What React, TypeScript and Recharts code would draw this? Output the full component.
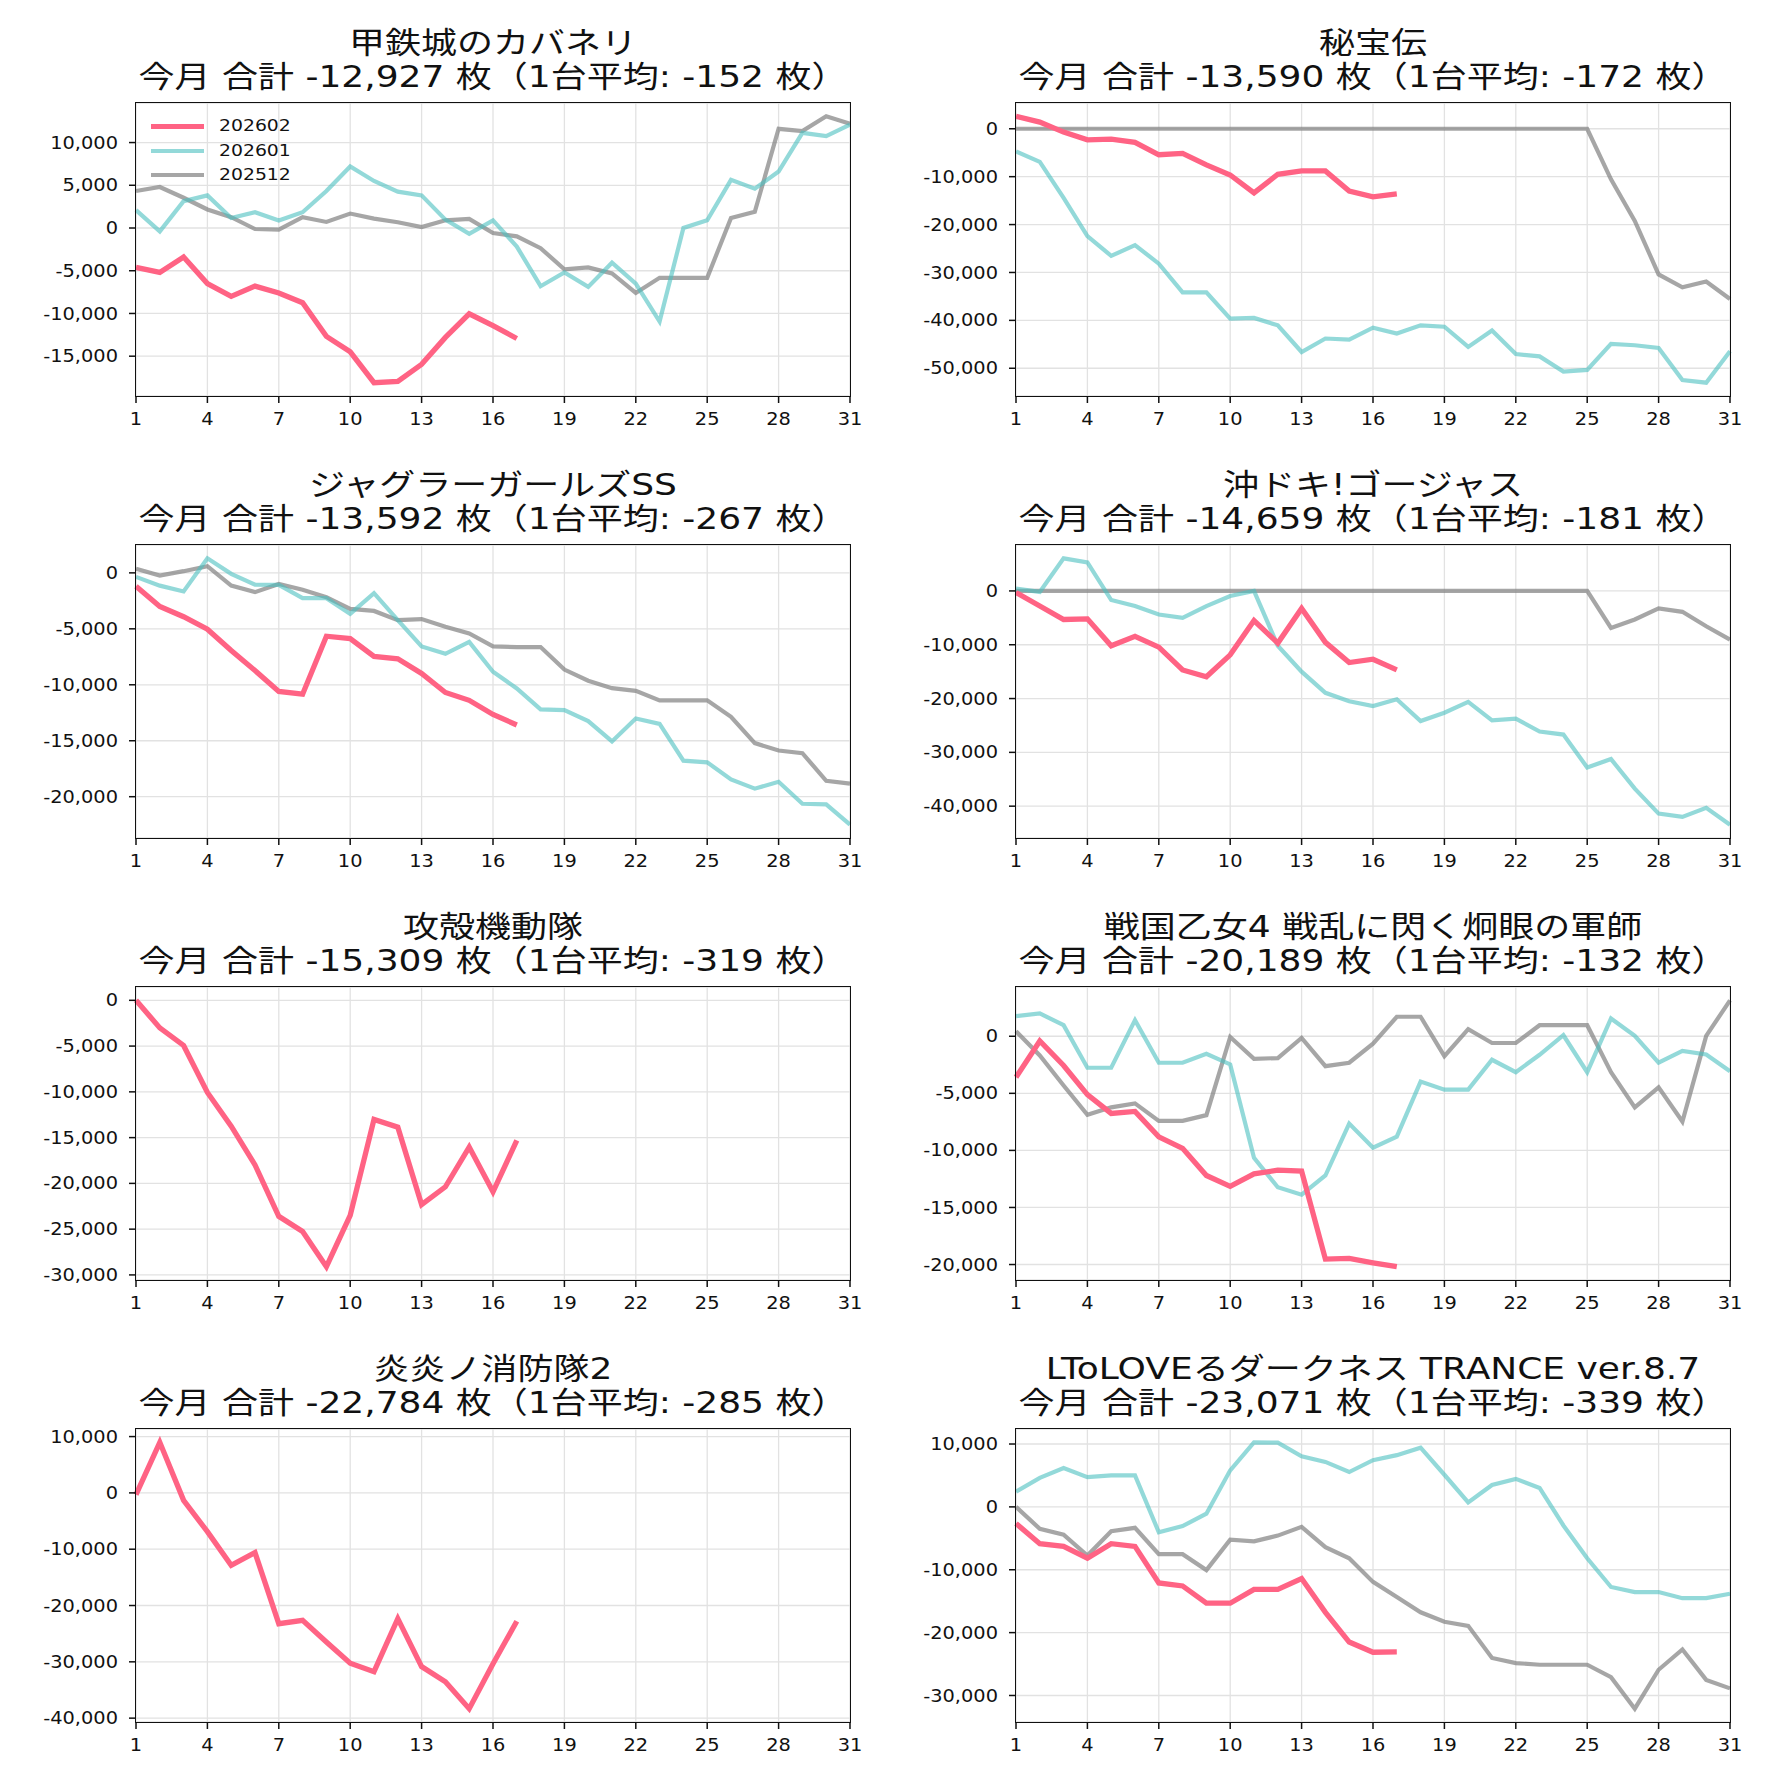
import { LineChart, Line, XAxis, YAxis, CartesianGrid } from "recharts";

// days of the month on the x axis
const days = [
  1, 2, 3, 4, 5, 6, 7, 8, 9, 10, 11, 12, 13, 14, 15, 16,
  17, 18, 19, 20, 21, 22, 23, 24, 25, 26, 27, 28, 29, 30, 31,
];
const dayTicks = [1, 4, 7, 10, 13, 16, 19, 22, 25, 28, 31];
const monthLabels = ["202602", "202601", "202512"];

const machineNames = [
  "甲鉄城のカバネリ",
  "秘宝伝",
  "ジャグラーガールズSS",
  "沖ドキ!ゴージャス",
  "攻殻機動隊",
  "戦国乙女4 戦乱に閃く炯眼の軍師",
  "炎炎ノ消防隊2",
  "LToLOVEるダークネス TRANCE ver.8.7",
];
const monthTotals = [-12927, -13590, -13592, -14659, -15309, -20189, -22784, -23071];
const unitAverages = [-152, -172, -267, -181, -319, -132, -285, -339];

// 甲鉄城のカバネリ
const kabaneriFeb = [-4600, -5200, -3400, -6500, -8000, -6800, -7600, -8740, -12680, -14490, -18100, -17950, -15950, -12800, -10040, -11420, -12927];
const kabaneriJan = [2090, -390, 3150, 3820, 1180, 1850, 870, 1850, 4330, 7200, 5510, 4250, 3820, 980, -670, 900, -2170, -6810, -5200, -6890, -4060, -6500, -10940, 0, 900, 5630, 4600, 6610, 11140, 10750, 12090];
const kabaneriDec = [4330, 4800, 3540, 2170, 1260, -120, -200, 1260, 710, 1690, 1100, 670, 120, 900, 1060, -590, -980, -2360, -4840, -4610, -5310, -7600, -5830, -5830, -5830, 1180, 1890, 11610, 11340, 13070, 12200];

// 秘宝伝
const hihodenFeb = [2600, 1400, -700, -2320, -2180, -2820, -5420, -5140, -7540, -9650, -13380, -9500, -8800, -8800, -13020, -14220, -13590];
const hihodenJan = [-4720, -6900, -14430, -22390, -26540, -24290, -28160, -34140, -34140, -39640, -39500, -41040, -46600, -43790, -44000, -41540, -42730, -41040, -41320, -45550, -42100, -47030, -47520, -50690, -50340, -44920, -45200, -45760, -52450, -53010, -46460];
const hihodenDec = [0, 0, 0, 0, 0, 0, 0, 0, 0, 0, 0, 0, 0, 0, 0, 0, 0, 0, 0, 0, 0, 0, 0, 0, 0, -10560, -19220, -30410, -33090, -31890, -35550];

// ジャグラーガールズSS
const jugglerFeb = [-1200, -3010, -3920, -5030, -6930, -8730, -10600, -10840, -5660, -5870, -7470, -7680, -8980, -10690, -11390, -12650, -13592];
const jugglerJan = [-360, -1140, -1660, 1300, -90, -1050, -1080, -2260, -2260, -3670, -1810, -4220, -6570, -7230, -6170, -8830, -10330, -12200, -12260, -13250, -15060, -13010, -13490, -16780, -16930, -18460, -19280, -18670, -20630, -20690, -22500];
const jugglerDec = [360, -240, 150, 600, -1140, -1720, -990, -1510, -2170, -3220, -3400, -4220, -4130, -4820, -5420, -6570, -6630, -6630, -8640, -9640, -10300, -10540, -11390, -11390, -11390, -12860, -15210, -15870, -16110, -18580, -18830];

// 沖ドキ!ゴージャス
const okidokiFeb = [-300, -2800, -5310, -5190, -10190, -8440, -10440, -14690, -15940, -11880, -5500, -9690, -3250, -9560, -13310, -12690, -14659];
const okidokiJan = [440, -190, 6060, 5310, -1690, -2810, -4380, -5000, -2810, -940, 0, -10190, -15000, -18940, -20500, -21380, -20130, -24190, -22630, -20630, -24060, -23750, -26130, -26690, -32810, -31250, -36750, -41380, -42000, -40310, -43440];
const okidokiDec = [0, 0, 0, 0, 0, 0, 0, 0, 0, 0, 0, 0, 0, 0, 0, 0, 0, 0, 0, 0, 0, 0, 0, 0, 0, -6880, -5310, -3250, -3880, -6560, -9060];

// 攻殻機動隊
const kokakuFeb = [0, -3010, -4930, -10070, -13750, -17980, -23600, -25250, -29100, -23490, -13010, -13860, -22310, -20370, -16030, -20920, -15309];

// 戦国乙女4
const otomeFeb = [-3590, -410, -2560, -5120, -6760, -6590, -8820, -9820, -12200, -13150, -12060, -11730, -11820, -19530, -19470, -19850, -20189];
const otomeJan = [1760, 2000, 970, -2760, -2760, 1410, -2320, -2320, -1530, -2470, -10650, -13230, -13880, -12200, -7650, -9760, -8790, -3970, -4680, -4680, -2060, -3150, -1620, 90, -3150, 1560, 30, -2320, -1290, -1590, -3060];
const otomeDec = [440, -1680, -4320, -6880, -6230, -5880, -7410, -7410, -6910, -60, -1970, -1910, -150, -2620, -2320, -650, 1710, 1710, -1740, 620, -590, -590, 970, 970, 970, -3150, -6230, -4470, -7470, 30, 3150];

// 炎炎ノ消防隊2
const enenFeb = [-300, 8980, -1320, -6890, -12870, -10600, -23230, -22630, -26470, -30240, -31740, -22340, -30840, -33530, -38320, -30360, -22784];

// LToLOVEるダークネス
const toloveFeb = [-2630, -5860, -6290, -8170, -5860, -6290, -12100, -12580, -15320, -15320, -13120, -13120, -11400, -16770, -21500, -23120, -23071];
const toloveJan = [2420, 4620, 6180, 4730, 5000, 5000, -4030, -3060, -1080, 5810, 10270, 10210, 8060, 7150, 5540, 7420, 8230, 9410, 5110, 700, 3490, 4460, 3010, -2960, -8170, -12740, -13550, -13550, -14520, -14520, -13820];
const toloveDec = [0, -3490, -4410, -7740, -3870, -3330, -7530, -7530, -10050, -5210, -5480, -4570, -3170, -6400, -8170, -11930, -14350, -16770, -18280, -18920, -24030, -24840, -25110, -25110, -25110, -27090, -32100, -25910, -22690, -27520, -28870];

const yTicksList = [
  [-15000, -10000, -5000, 0, 5000, 10000],
  [-50000, -40000, -30000, -20000, -10000, 0],
  [-20000, -15000, -10000, -5000, 0],
  [-40000, -30000, -20000, -10000, 0],
  [-30000, -25000, -20000, -15000, -10000, -5000, 0],
  [-20000, -15000, -10000, -5000, 0],
  [-40000, -30000, -20000, -10000, 0, 10000],
  [-30000, -20000, -10000, 0, 10000],
];

const seriesList: (number[] | null)[][] = [
  [kabaneriFeb, kabaneriJan, kabaneriDec],
  [hihodenFeb, hihodenJan, hihodenDec],
  [jugglerFeb, jugglerJan, jugglerDec],
  [okidokiFeb, okidokiJan, okidokiDec],
  [kokakuFeb, null, null],
  [otomeFeb, otomeJan, otomeDec],
  [enenFeb, null, null],
  [toloveFeb, toloveJan, toloveDec],
];

const COLORS = ["#ff6384", "rgba(75,192,192,0.6)", "rgba(128,128,128,0.7)"];
const WIDTHS = [5.3, 4.2, 4.2];

const PLOT_W = 714;
const PLOT_H = 293;
const AXIS_W = 130;
const COL_X = [136, 1016];
const ROW_Y = [103, 545, 987, 1429];

// the reference image is a little wider than tall, so its glyphs read stretched
const STRETCH = 1.14;
const TICK_FAMILY = "'DejaVu Sans', sans-serif";
const TITLE_FAMILY = "'DejaVu Sans', 'Noto Sans CJK JP', sans-serif";

const fmt = (v: number) => (v < 0 ? "-" : "") + Math.abs(v).toLocaleString("en-US");

const makeTick = (dy: string) => (props: any) => {
  const { x, y, payload, textAnchor } = props;
  return (
    <text
      transform={`translate(${x},${y}) scale(${STRETCH},1)`}
      textAnchor={textAnchor}
      dy={dy}
      fill="#111"
      fontSize={17}
      fontFamily={TICK_FAMILY}
    >
      {fmt(payload.value)}
    </text>
  );
};
const XTick = makeTick("0.71em");
const YTick = makeTick("0.355em");

const TitleLine = ({ text, left, top }: { text: string; left: number; top: number }) => (
  <div
    style={{
      position: "absolute",
      left: left - 150,
      width: PLOT_W + 300,
      top,
      height: 34,
      lineHeight: "34px",
      textAlign: "center",
      fontFamily: TITLE_FAMILY,
      fontSize: 30,
      color: "#111",
      whiteSpace: "nowrap",
      transform: "scaleX(1.2)",
    }}
  >
    {text}
  </div>
);

const Panel = ({ idx }: { idx: number }) => {
  const left = COL_X[idx % 2];
  const top = ROW_Y[Math.floor(idx / 2)];
  const series = seriesList[idx];

  const rows = days.map((d, i) => {
    const row: Record<string, number | undefined> = { day: d };
    series.forEach((s, k) => {
      if (s) row["s" + k] = s[i];
    });
    return row;
  });

  const vals = series.flatMap((s) => s || []);
  const lo = Math.min(...vals);
  const hi = Math.max(...vals);
  const pad = (hi - lo) * 0.05;

  // draw older months first so 202602 sits on top
  const order = [2, 1, 0];
  const subtitle = `今月 合計 ${fmt(monthTotals[idx])} 枚（1台平均: ${fmt(unitAverages[idx])} 枚）`;

  return (
    <>
      <TitleLine text={machineNames[idx]} left={left} top={top - 77} />
      <TitleLine text={subtitle} left={left} top={top - 43} />

      <div style={{ position: "absolute", left: left - AXIS_W, top }}>
        <LineChart
          width={AXIS_W + PLOT_W + 14}
          height={PLOT_H + 46}
          data={rows}
          margin={{ top: 0, right: 14, bottom: 0, left: 0 }}
        >
          <CartesianGrid stroke="#e2e2e2" strokeWidth={1.3} />
          <XAxis
            dataKey="day"
            type="number"
            domain={[1, 31]}
            ticks={dayTicks}
            interval={0}
            height={46}
            axisLine={false}
            tickSize={7}
            tickMargin={10}
            tickLine={{ stroke: "#111", strokeWidth: 1.5 }}
            tick={XTick}
          />
          <YAxis
            type="number"
            domain={[lo - pad, hi + pad]}
            ticks={yTicksList[idx]}
            interval={0}
            width={AXIS_W}
            axisLine={false}
            tickSize={7}
            tickMargin={11}
            tickLine={{ stroke: "#111", strokeWidth: 1.5 }}
            tick={YTick}
          />
          {order
            .filter((k) => series[k])
            .map((k) => (
              <Line
                key={k}
                type="linear"
                dataKey={"s" + k}
                name={monthLabels[k]}
                stroke={COLORS[k]}
                strokeWidth={WIDTHS[k]}
                dot={false}
                activeDot={false}
                isAnimationActive={false}
              />
            ))}
        </LineChart>
      </div>

      <div
        style={{
          position: "absolute",
          left: left - 1,
          top: top - 1,
          width: PLOT_W + 2,
          height: PLOT_H + 2,
          border: "1.8px solid #111",
          boxSizing: "border-box",
          pointerEvents: "none",
        }}
      />

      {idx === 0 && <MonthLegend left={left + 15} top={top + 11} />}
    </>
  );
};

const MonthLegend = ({ left, top }: { left: number; top: number }) => (
  <div style={{ position: "absolute", left, top }}>
    {monthLabels.map((m, k) => (
      <div key={m} style={{ display: "flex", alignItems: "center", height: 24.5 }}>
        <div style={{ width: 53, height: WIDTHS[k], background: COLORS[k] }} />
        <span
          style={{
            marginLeft: 15,
            fontFamily: TICK_FAMILY,
            fontSize: 16.5,
            lineHeight: "20px",
            color: "#111",
            transform: `scaleX(${STRETCH})`,
            transformOrigin: "left center",
          }}
        >
          {m}
        </span>
      </div>
    ))}
  </div>
);

export default function App() {
  return (
    <div
      style={{
        position: "absolute",
        left: 0,
        top: 0,
        width: 1780,
        height: 1780,
        background: "#fff",
        overflow: "hidden",
      }}
    >
      {machineNames.map((_, i) => (
        <Panel key={i} idx={i} />
      ))}
    </div>
  );
}
